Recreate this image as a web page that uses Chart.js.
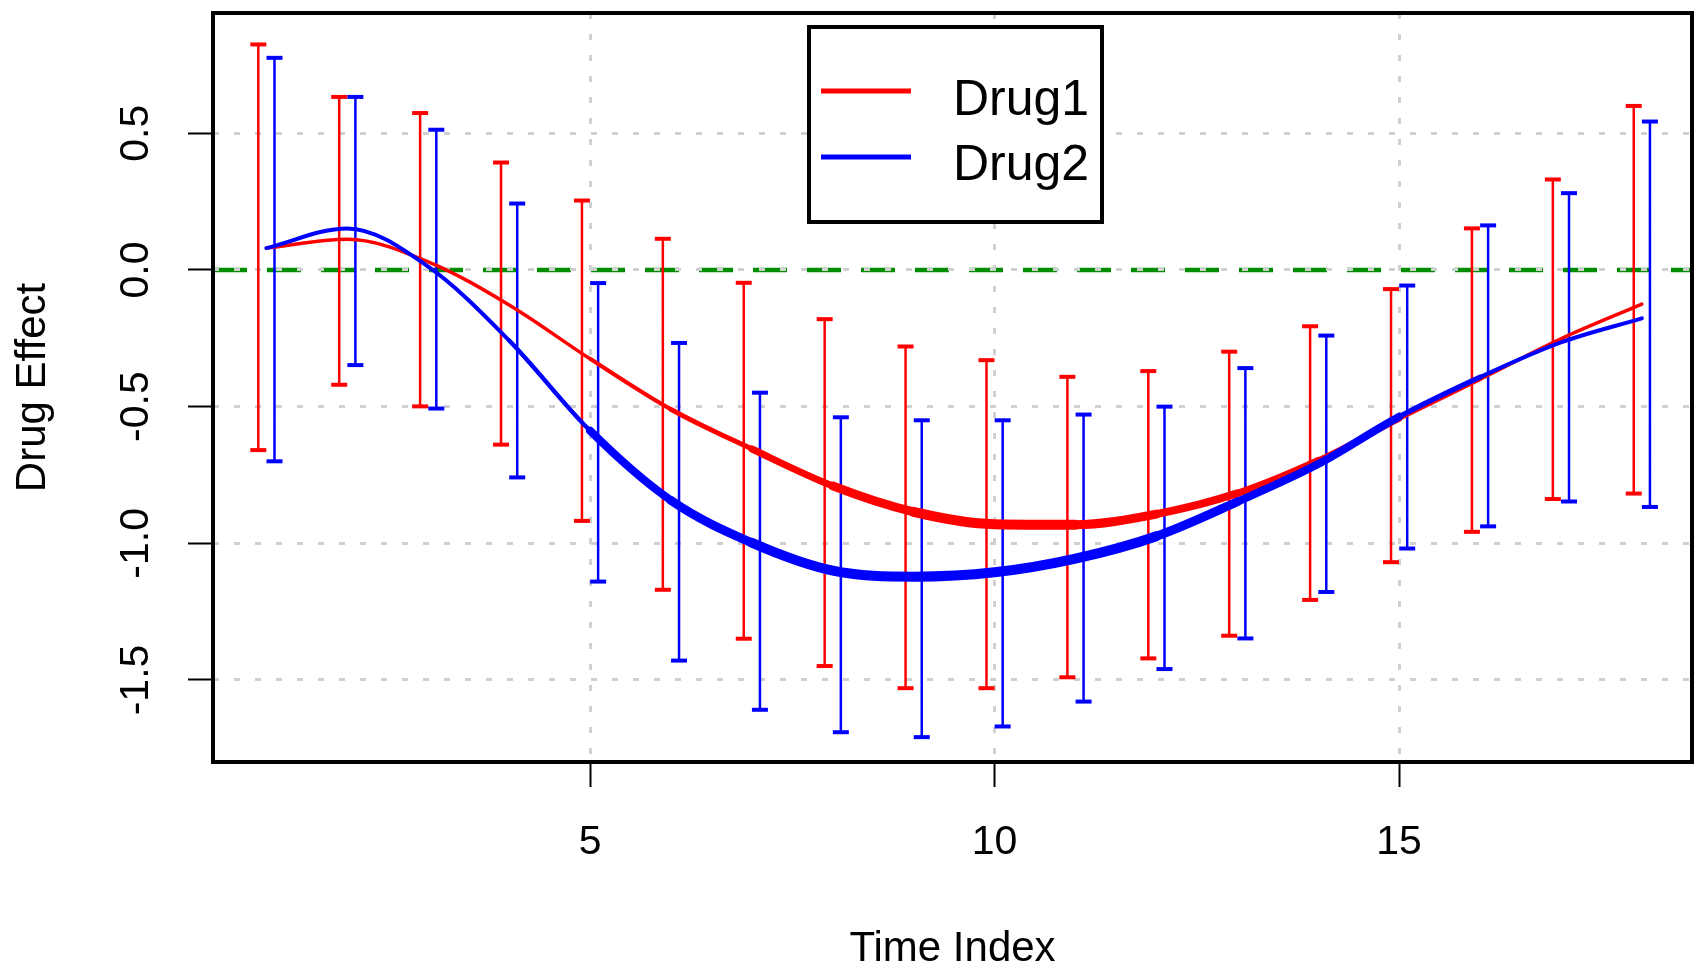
<!DOCTYPE html>
<html lang="en">
  <head>
    <meta charset="UTF-8" />
    <title>Drug Effect over Time</title>
    <script src="https://cdn.jsdelivr.net/npm/chart.js@4.4.1/dist/chart.umd.min.js"></script>
    <style>
      body {
        margin: 0;
        background-color: #ffffff;
      }
      .chart-container {
        width: 1695px;
        height: 970px;
      }
    </style>
  </head>
  <body>
    <div class="chart-container">
      <canvas id="effectChart" width="1695" height="970"></canvas>
    </div>

    <script>
      // Time points and fitted effect per drug
      const timeIndex = [1, 2, 3, 4, 5, 6, 7, 8, 9, 10, 11, 12, 13, 14, 15, 16, 17, 18];
      const drug1Effect = [0.08, 0.112, 0.03, -0.128, -0.325, -0.51, -0.655, -0.79, -0.885, -0.93, -0.932, -0.893, -0.817, -0.697, -0.545, -0.4, -0.252, -0.125];
      const drug2Effect = [0.08, 0.152, 0.012, -0.258, -0.588, -0.843, -0.998, -1.1, -1.122, -1.106, -1.056, -0.974, -0.848, -0.71, -0.537, -0.392, -0.265, -0.177];

      // Interval bounds
      const drug1Upper = [0.825, 0.633, 0.574, 0.393, 0.254, 0.114, -0.047, -0.18, -0.28, -0.33, -0.391, -0.37, -0.299, -0.206, -0.07, 0.152, 0.331, 0.6];
      const drug1Lower = [-0.659, -0.42, -0.499, -0.639, -0.918, -1.17, -1.349, -1.449, -1.53, -1.53, -1.49, -1.421, -1.338, -1.207, -1.069, -0.958, -0.838, -0.818];
      const drug2Upper = [0.776, 0.633, 0.513, 0.243, -0.048, -0.267, -0.449, -0.539, -0.55, -0.55, -0.529, -0.5, -0.359, -0.24, -0.057, 0.163, 0.281, 0.543];
      const drug2Lower = [-0.7, -0.348, -0.507, -0.759, -1.14, -1.429, -1.609, -1.691, -1.709, -1.67, -1.579, -1.46, -1.348, -1.178, -1.019, -0.938, -0.847, -0.867];

      // Axis ticks
      const xTickValues = [5, 10, 15];
      const xTickLabels = ["5", "10", "15"];
      const yTickValues = [-1.5, -1.0, -0.5, 0.0, 0.5];
      const yTickLabels = ["-1.5", "-1.0", "-0.5", "0.0", "0.5"];

      const seriesNames = ["Drug1", "Drug2"];
      const referenceLevel = 0;

      // styling
      const FONT = "'Liberation Sans', Arial, sans-serif";
      const RED = "#ff0000";
      const BLUE = "#0000ff";
      const BAR_SHIFT = 0.1; // bars sit either side of the time point
      const drug1LineWidths = [3.5, 3.5, 3.5, 3.5, 4, 5, 7, 9, 10, 10, 9, 8, 7, 6, 4, 3.5, 3.5];
      const drug2LineWidths = [4, 4, 4, 4.5, 8, 9, 10, 10, 10, 10, 10, 9, 8, 8, 5, 4, 4];

      function errorBarPoints(lower, upper, shift) {
        const pts = [];
        timeIndex.forEach((t, i) => {
          pts.push({ x: t + shift, y: lower[i] });
          pts.push({ x: t + shift, y: upper[i] });
          pts.push({ x: t + shift, y: null }); // break between bars
        });
        return pts;
      }

      function curvePoints(values) {
        return timeIndex.map((t, i) => ({ x: t, y: values[i] }));
      }

      // zero line, plot box, rotated y labels and legend
      const plotDecor = {
        id: "plotDecor",
        beforeDraw(chart) {
          const { ctx, chartArea: ca, scales } = chart;
          const y0 = scales.y.getPixelForValue(referenceLevel);
          ctx.save();
          ctx.strokeStyle = "#008b00";
          ctx.lineWidth = 4.5;
          ctx.setLineDash([34, 20]);
          ctx.beginPath();
          ctx.moveTo(ca.left, y0);
          ctx.lineTo(ca.right, y0);
          ctx.stroke();
          ctx.restore();
        },
        afterDraw(chart) {
          const { ctx, chartArea: ca, scales } = chart;
          ctx.save();

          // box
          ctx.strokeStyle = "#000";
          ctx.lineWidth = 4;
          ctx.strokeRect(ca.left, ca.top, ca.right - ca.left, ca.bottom - ca.top);

          // y tick labels, parallel to the axis
          ctx.fillStyle = "#000";
          ctx.font = "41px " + FONT;
          ctx.textAlign = "center";
          ctx.textBaseline = "middle";
          yTickValues.forEach((v, i) => {
            const py = scales.y.getPixelForValue(v);
            ctx.save();
            ctx.translate(ca.left - 76, py);
            ctx.rotate(-Math.PI / 2);
            ctx.fillText(yTickLabels[i], 0, 0);
            ctx.restore();
          });

          // legend
          const boxW = 293;
          const boxH = 195;
          const left = (ca.left + ca.right) / 2 - boxW / 2 + 3;
          const top = ca.top + 14;
          ctx.fillStyle = "#fff";
          ctx.fillRect(left, top, boxW, boxH);
          ctx.strokeRect(left, top, boxW, boxH);
          const colors = [RED, BLUE];
          const rows = [64, 130];
          const baselines = [88, 153];
          ctx.font = "50px " + FONT;
          ctx.textAlign = "left";
          ctx.textBaseline = "alphabetic";
          seriesNames.forEach((name, i) => {
            ctx.strokeStyle = colors[i];
            ctx.lineWidth = 5;
            ctx.beginPath();
            ctx.moveTo(left + 12, top + rows[i]);
            ctx.lineTo(left + 102, top + rows[i]);
            ctx.stroke();
            ctx.fillStyle = "#000";
            ctx.fillText(name, left + 144, top + baselines[i]);
          });
          ctx.restore();
        },
      };

      const ctx = document.getElementById("effectChart").getContext("2d");
      const chart = new Chart(ctx, {
        type: "line",
        data: {
          datasets: [
            {
              label: seriesNames[1],
              data: curvePoints(drug2Effect),
              borderColor: BLUE,
              pointRadius: 0,
              cubicInterpolationMode: "monotone",
              borderCapStyle: "round",
              borderJoinStyle: "round",
              segment: {
                borderWidth: (c) => drug2LineWidths[c.p0DataIndex],
              },
            },
            {
              label: seriesNames[0],
              data: curvePoints(drug1Effect),
              borderColor: RED,
              pointRadius: 0,
              cubicInterpolationMode: "monotone",
              borderCapStyle: "round",
              borderJoinStyle: "round",
              segment: {
                borderWidth: (c) => drug1LineWidths[c.p0DataIndex],
              },
            },
            {
              label: seriesNames[1] + " interval",
              data: errorBarPoints(drug2Lower, drug2Upper, BAR_SHIFT),
              borderColor: BLUE,
              borderWidth: 2.5,
              spanGaps: false,
              pointStyle: "line",
              pointRadius: 8,
              pointHoverRadius: 8,
              pointBorderWidth: 4,
              pointBorderColor: BLUE,
            },
            {
              label: seriesNames[0] + " interval",
              data: errorBarPoints(drug1Lower, drug1Upper, -BAR_SHIFT),
              borderColor: RED,
              borderWidth: 2.5,
              spanGaps: false,
              pointStyle: "line",
              pointRadius: 8,
              pointHoverRadius: 8,
              pointBorderWidth: 4,
              pointBorderColor: RED,
            },
          ],
        },
        options: {
          responsive: false,
          animation: false,
          events: [],
          layout: {
            autoPadding: false,
            padding: { top: 13, right: 3, left: 0, bottom: 0 },
          },
          plugins: {
            legend: { display: false },
            tooltip: { enabled: false },
          },
          scales: {
            x: {
              type: "linear",
              position: "bottom",
              min: 0.34,
              max: 18.62,
              afterBuildTicks: (scale) => {
                scale.ticks = xTickValues.map((v) => ({ value: v }));
              },
              afterFit: (scale) => {
                scale.height = 208;
              },
              ticks: {
                color: "#000",
                padding: 35,
                font: { family: FONT, size: 41, lineHeight: 1 },
                maxRotation: 0,
                callback: (value) => xTickLabels[xTickValues.indexOf(value)],
              },
              grid: {
                color: "#d0d0d0",
                lineWidth: 3,
                tickColor: "#000",
                tickWidth: 2,
                tickLength: 25,
                tickBorderDash: [],
              },
              border: { display: false, dash: [6, 15] },
              title: {
                display: true,
                text: "Time Index",
                color: "#000",
                font: { family: FONT, size: 42, lineHeight: 1 },
                padding: { top: 0, bottom: 0 },
              },
            },
            y: {
              type: "linear",
              position: "left",
              min: -1.8,
              max: 0.94,
              afterBuildTicks: (scale) => {
                scale.ticks = yTickValues.map((v) => ({ value: v }));
              },
              afterFit: (scale) => {
                scale.width = 213;
              },
              ticks: { display: false },
              grid: {
                color: "#d0d0d0",
                lineWidth: 3,
                tickColor: "#000",
                tickWidth: 2,
                tickLength: 25,
                tickBorderDash: [],
              },
              border: { display: false, dash: [6, 15] },
              title: {
                display: true,
                text: "Drug Effect",
                color: "#000",
                font: { family: FONT, size: 42, lineHeight: 1 },
                padding: { top: 12, bottom: 0 },
              },
            },
          },
        },
        plugins: [plotDecor],
      });
    </script>
  </body>
</html>
